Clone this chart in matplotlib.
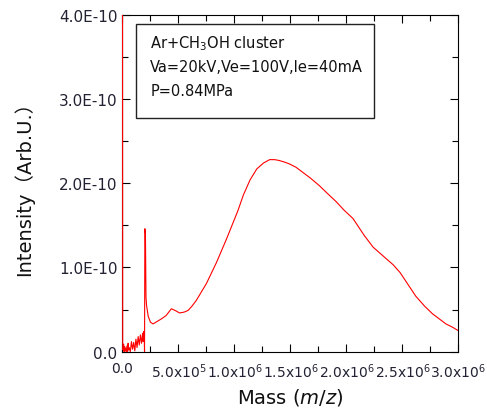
import matplotlib.pyplot as plt
from matplotlib.ticker import MultipleLocator, FixedLocator, FixedFormatter
from matplotlib.patches import Rectangle

plt.rcParams['font.family'] = ['DejaVu Sans', 'Noto Sans CJK JP']
plt.rcParams['mathtext.fontset'] = 'dejavusans'

# mass in units of 1e5 m/z, intensity in units of 1e-10
mass = [0.0, 0.02, 0.05, 0.1, 0.15, 0.2, 0.25, 0.3, 0.35, 0.4, 0.45, 0.5,
        0.55, 0.6, 0.7, 0.8, 0.9, 1.0, 1.1, 1.2, 1.3, 1.4, 1.5, 1.6, 1.7,
        1.8, 1.85, 1.9, 1.95, 1.97, 2.0, 2.05, 2.1, 2.15, 2.3, 2.5, 2.73,
        3.1, 3.48, 3.9, 4.37, 4.7, 5.1, 5.5, 5.86, 6.2, 6.6, 7.5, 8.4, 9.3,
        10.3, 10.8, 11.4, 12.0, 12.6, 13.15, 13.6, 14.0, 14.5, 14.9, 15.5,
        16.1, 16.8, 17.6, 18.3, 19.1, 19.8, 20.6, 21.1, 21.6, 22.4, 23.0,
        23.6, 24.2, 24.8, 25.5, 26.2, 27.0, 27.7, 28.3, 28.9, 29.5, 30.0]
intensity = [5.0, 0.10, 0.02, 0.09, 0.0, 0.06, 0.01, 0.04, 0.0, 0.07, 0.0,
             0.10, 0.02, 0.05, 0.0, 0.12, 0.03, 0.11, 0.01, 0.15, 0.05, 0.18,
             0.08, 0.20, 0.10, 0.22, 0.12, 0.24, 0.15, 0.0, 1.46, 1.40, 0.65,
             0.55, 0.42, 0.35, 0.33, 0.36, 0.39, 0.43, 0.51, 0.49, 0.46, 0.47,
             0.49, 0.54, 0.61, 0.81, 1.06, 1.34, 1.67, 1.86, 2.04, 2.17, 2.24,
             2.28, 2.28, 2.27, 2.25, 2.23, 2.19, 2.13, 2.06, 1.97, 1.88, 1.78,
             1.68, 1.58, 1.48, 1.38, 1.24, 1.17, 1.10, 1.03, 0.94, 0.80, 0.66,
             0.54, 0.45, 0.39, 0.33, 0.29, 0.25]

xticks = [0, 5e5, 1e6, 1.5e6, 2e6, 2.5e6, 3e6]
xticklabels = ['0.0', r'5.0x10$^5$', r'1.0x10$^6$', r'1.5x10$^6$',
               r'2.0x10$^6$', r'2.5x10$^6$', r'3.0x10$^6$']
yticks = [0, 1e-10, 2e-10, 3e-10, 4e-10]
yticklabels = ['0.0', '1.0E-10', '2.0E-10', '3.0E-10', '4.0E-10']
info = ['Ar+CH$_3$OH cluster', 'Va=20kV,Ve=100V,Ie=40mA', 'P=0.84MPa']

fig = plt.figure(figsize=(4.87, 4.14), dpi=100)
ax = fig.add_axes([0.2515, 0.148, 0.6895, 0.814])

ax.plot([m * 1e5 for m in mass], [v * 1e-10 for v in intensity],
        color='red', lw=0.8, zorder=3)

ax.set_xlim(0, 3e6)
ax.set_ylim(0, 4e-10)
ax.xaxis.set_major_locator(FixedLocator(xticks))
ax.xaxis.set_major_formatter(FixedFormatter(xticklabels))
ax.xaxis.set_minor_locator(MultipleLocator(2.5e5))
ax.yaxis.set_major_locator(FixedLocator(yticks))
ax.yaxis.set_major_formatter(FixedFormatter(yticklabels))
ax.yaxis.set_minor_locator(MultipleLocator(0.5e-10))
ax.tick_params(which='both', direction='in', top=True, right=True,
               labelcolor='#222233', width=0.8)
ax.tick_params(axis='y', labelsize=11)
ax.tick_params(axis='x', labelsize=10, pad=7)
ax.tick_params(which='major', length=6)
ax.tick_params(which='minor', length=4)
for s in ax.spines.values():
    s.set_linewidth(0.8)

ax.set_xlabel('Mass ($m/z$)', fontsize=14, color='#111111')
ax.set_ylabel('Intensity\uff08Arb.U.\uff09', fontsize=14, color='#111111',
              labelpad=18)

ax.add_patch(Rectangle((0.04, 0.695), 0.71, 0.278, transform=ax.transAxes,
                       fill=False, edgecolor='#222222', lw=1.0, zorder=5))
for i, line in enumerate(info):
    ax.text(0.083, 0.918 - i * 0.072, line, transform=ax.transAxes,
            fontsize=10.5, color='#111111', va='center', ha='left')

fig.savefig('out.png', dpi=100)
